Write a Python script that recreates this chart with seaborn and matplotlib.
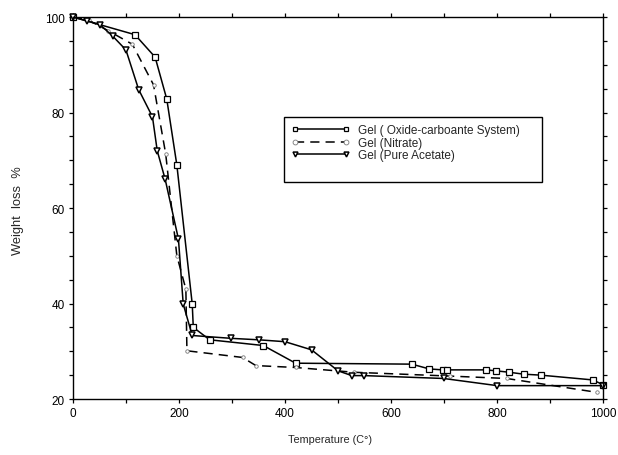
import matplotlib
matplotlib.use("Agg")
import matplotlib.pyplot as plt
from matplotlib.ticker import MultipleLocator
from matplotlib.patches import Rectangle
import seaborn as sns
import pandas as pd

# Thermogravimetric curves of the three gels
temp_oxide = [0, 117, 155, 177, 196, 225, 227, 258, 359, 420, 639, 672, 697, 705,
              779, 798, 823, 850, 882, 980, 1000]
loss_oxide = [100, 96.3, 91.6, 82.8, 69.0, 39.9, 35.0, 32.4, 31.2, 27.5, 27.3, 26.3,
              26.1, 26.1, 26.1, 25.9, 25.6, 25.2, 25.0, 24.0, 23.0]

temp_nitrate = [0, 30, 67, 112, 152, 175, 196, 213, 215, 320, 345, 420, 530, 711,
                818, 988]
loss_nitrate = [100, 99.3, 97.1, 94.3, 85.8, 71.3, 50.0, 43.0, 30.1, 28.7, 27.0,
                26.6, 25.6, 24.8, 24.3, 21.4]

temp_acetate = [0, 26, 51, 75, 100, 124, 150, 159, 174, 199, 208, 225, 299, 350,
                400, 450, 500, 526, 549, 699, 800, 1000]
loss_acetate = [100, 99.2, 98.4, 96.0, 93.1, 84.8, 79.1, 72.0, 66.0, 53.5, 39.9,
                33.3, 32.7, 32.4, 32.0, 30.3, 25.9, 24.9, 24.9, 24.3, 22.8, 22.8]

series_labels = ["Gel ( Oxide-carboante System)", "Gel (Nitrate)", "Gel (Pure Acetate)"]

sns.set_style("ticks")
plt.rcParams["font.family"] = ["Liberation Sans", "DejaVu Sans"]
plt.rcParams["font.size"] = 8.5

fig = plt.figure(figsize=(6.18, 4.56), dpi=100)
ax = fig.add_axes([0.118, 0.1228, 0.858, 0.8377])

df_oxide = pd.DataFrame({"T": temp_oxide, "W": loss_oxide})
df_nitrate = pd.DataFrame({"T": temp_nitrate, "W": loss_nitrate})
df_acetate = pd.DataFrame({"T": temp_acetate, "W": loss_acetate})

sns.lineplot(data=df_oxide, x="T", y="W", sort=False, ax=ax, color="black",
             lw=1.1, marker="s", markersize=5, markerfacecolor="white",
             markeredgecolor="black", markeredgewidth=0.9,
             label=series_labels[0], clip_on=False)
sns.lineplot(data=df_nitrate, x="T", y="W", sort=False, ax=ax, color="black",
             lw=1.1, dashes=(6, 4), marker="o", markersize=2.5,
             markerfacecolor="white", markeredgecolor="#777777",
             markeredgewidth=0.6, label=series_labels[1])
sns.lineplot(data=df_acetate, x="T", y="W", sort=False, ax=ax, color="black",
             lw=1.1, marker="v", markersize=5, markerfacecolor="white",
             markeredgecolor="black", markeredgewidth=1.1,
             label=series_labels[2], clip_on=False)

ax.set_xlim(0, 1000)
ax.set_ylim(20, 100)
ax.xaxis.set_major_locator(MultipleLocator(200))
ax.xaxis.set_minor_locator(MultipleLocator(100))
ax.yaxis.set_major_locator(MultipleLocator(20))
ax.yaxis.set_minor_locator(MultipleLocator(5))
ax.tick_params(which="both", direction="out", length=3, width=0.9,
               top=True, right=True, labelsize=8.5, colors="black", pad=3)
for s in ax.spines.values():
    s.set_color("black")
    s.set_linewidth(1.0)

ax.set_xlabel("Temperature (C°)", fontsize=7.8)
ax.xaxis.set_label_coords(0.485, -0.092)
ax.set_ylabel("Weight  loss  %", fontsize=9.3)
ax.yaxis.set_label_coords(-0.0925, 0.497)

# legend entries without their own frame, boxed by a separate rectangle
leg = ax.legend(loc="center left", bbox_to_anchor=(0.4126, 0.671), numpoints=2,
                handlelength=4.9, handletextpad=0.75, labelspacing=0.02,
                fontsize=8.5, frameon=False, borderpad=0, borderaxespad=0)
for h in leg.legend_handles:
    h.set_markersize(3.5)
ax.add_patch(Rectangle((0.398, 0.5673), 0.486, 0.1701, transform=ax.transAxes,
                       facecolor="none", edgecolor="black", lw=1.0, zorder=5))

fig.savefig("out.png", dpi=100, facecolor="white")
